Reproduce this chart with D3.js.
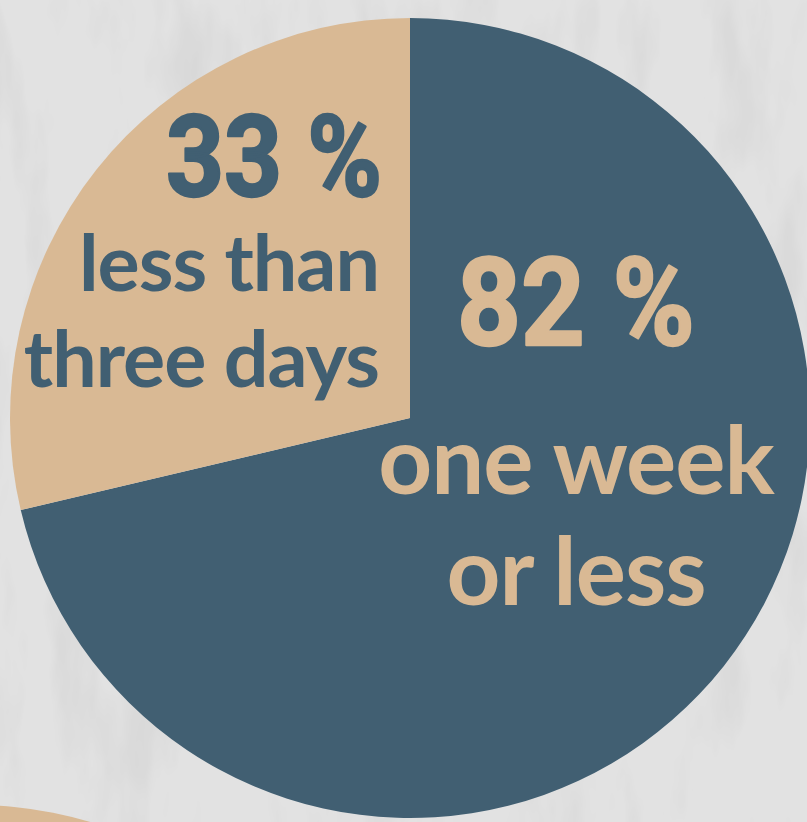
<!DOCTYPE html>
<html>
<head>
<meta charset="utf-8">
<script src="https://cdn.jsdelivr.net/npm/d3@7"></script>
<style>
  html, body { margin: 0; padding: 0; background: #e0e0e0; }
  svg { display: block; }
</style>
</head>
<body>
<script>
// ---- data ----
const categories = ["one week or less", "less than three days"];
const values = [82, 33];
const percentLabels = ["82 %", "33 %"];
const labelLines = [["one week", "or less"], ["less than", "three days"]];
const colors = ["#415f72", "#d9b994"];

const W = 807, H = 822;
const cx = 410, cy = 418, R = 400;

const svg = d3.select("body").append("svg")
  .attr("width", W).attr("height", H);

const defs = svg.append("defs");
const f = defs.append("filter").attr("id", "paper")
  .attr("x", 0).attr("y", 0).attr("width", "100%").attr("height", "100%");
f.append("feTurbulence").attr("type", "fractalNoise")
  .attr("baseFrequency", "0.02 0.006").attr("numOctaves", 4).attr("seed", 7);
f.append("feColorMatrix").attr("type", "matrix")
  .attr("values", "0 0 0 0 0  0 0 0 0 0  0 0 0 0 0  0 0 0 -1.4 0.75");

// background
svg.append("rect").attr("width", W).attr("height", H).attr("fill", "#e2e2e2");
svg.append("rect").attr("width", W).attr("height", H).attr("filter", "url(#paper)").attr("opacity", 0.07);

// partial neighbouring shape at bottom-left
svg.append("circle").attr("cx", -25).attr("cy", 1205).attr("r", 400).attr("fill", colors[1]);

// pie
const pie = d3.pie().sort(null).value(d => d);
const arcs = pie(values);
const arc = d3.arc().innerRadius(0).outerRadius(R);
const g = svg.append("g").attr("transform", `translate(${cx},${cy})`);
g.selectAll("path").data(arcs).enter().append("path")
  .attr("d", arc)
  .attr("fill", (d, i) => colors[i]);

const numFont = "Roboto, 'DejaVu Sans', sans-serif";
const txtFont = "Lato, 'Open Sans', sans-serif";

// labels for the big (blue) slice
svg.append("text").attr("x", 576).attr("y", 345)
  .attr("text-anchor", "middle")
  .attr("font-family", numFont).attr("font-weight", 700).attr("font-size", 122)
  .attr("textLength", 238).attr("lengthAdjust", "spacingAndGlyphs")
  .attr("stroke", colors[1]).attr("stroke-width", 2.5).attr("stroke-linejoin", "round")
  .attr("fill", colors[1]).text(percentLabels[0]);
svg.append("text").attr("text-anchor", "middle")
  .attr("font-family", txtFont).attr("font-weight", 700).attr("font-size", 94)
  .attr("letter-spacing", -1)
  .attr("fill", colors[1])
  .selectAll("tspan").data(labelLines[0]).enter().append("tspan")
  .attr("x", 576).attr("y", (d, i) => 494 + i * 111).text(d => d);

// labels for the small (tan) slice
svg.append("text").attr("x", 382).attr("y", 196)
  .attr("text-anchor", "end")
  .attr("font-family", numFont).attr("font-weight", 700).attr("font-size", 113)
  .attr("textLength", 216).attr("lengthAdjust", "spacingAndGlyphs")
  .attr("stroke", colors[0]).attr("stroke-width", 2.5).attr("stroke-linejoin", "round")
  .attr("fill", colors[0]).text(percentLabels[1]);
svg.append("text").attr("text-anchor", "end")
  .attr("font-family", txtFont).attr("font-weight", 700).attr("font-size", 79)
  .attr("letter-spacing", -1)
  .attr("fill", colors[0])
  .selectAll("tspan").data(labelLines[1]).enter().append("tspan")
  .attr("x", 379).attr("y", (d, i) => 291 + i * 96).text(d => d);
</script>
</body>
</html>
